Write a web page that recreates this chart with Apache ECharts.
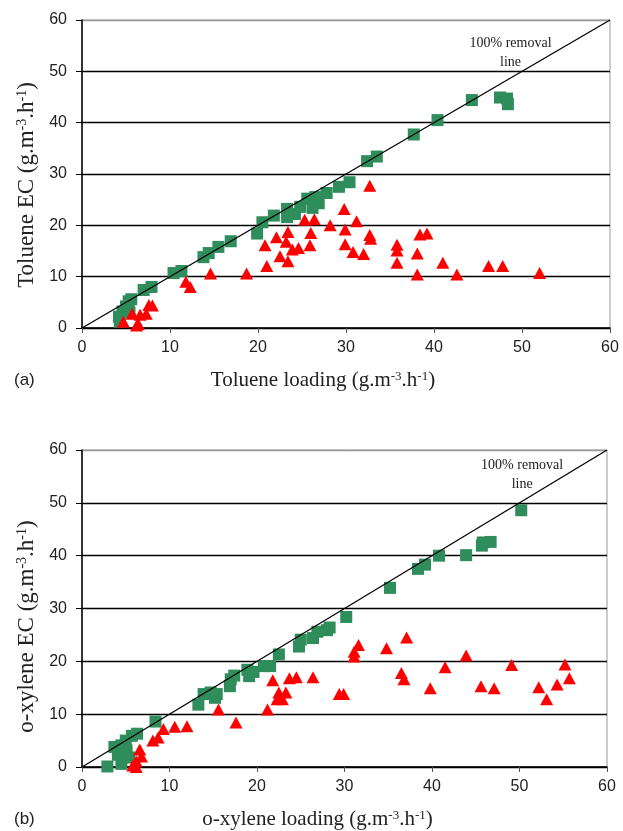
<!DOCTYPE html>
<html lang="en">
<head>
    <meta charset="UTF-8">
    <title>EC vs loading</title>
    <script src="https://cdn.jsdelivr.net/npm/echarts@6/dist/echarts.min.js"></script>
    <style>
        body { margin: 0; background: #fff; }
        #chart { width: 623px; height: 831px; }
    </style>
</head>
<body>
<div id="chart"></div>
<script>
    // (a) toluene
    var tolGreenX = [4.2, 4.3, 4.6, 5.0, 5.3, 5.6, 5.4, 7.0, 7.9, 10.4, 11.3, 13.8, 14.4, 15.5, 16.9, 19.9, 20.5, 21.8, 23.3, 23.3,
        24.2, 24.8, 25.6, 26.2, 26.5, 26.9, 27.8, 29.2, 30.4, 32.4, 33.5, 37.7, 40.4, 44.3, 47.5, 48.3, 48.4];
    var tolGreenY = [2.2, 1.2, 3.2, 4.2, 5.2, 5.6, 3.0, 7.4, 8.0, 10.7, 11.1, 13.8, 14.6, 15.8, 16.9, 18.4, 20.6, 21.9, 23.2, 21.6,
        22.2, 23.6, 25.2, 23.4, 25.5, 24.3, 26.3, 27.5, 28.4, 32.5, 33.4, 37.7, 40.5, 44.4, 44.9, 44.7, 43.6];
    var tolRedX = [4.7, 5.7, 6.2, 6.4, 6.6, 7.3, 7.6, 8.0, 11.8, 12.3, 14.6, 18.7, 20.8, 21.0, 22.1, 22.5, 23.2, 23.4, 23.4, 23.9,
        24.6, 25.3, 25.9, 26.0, 26.4, 28.2, 29.8, 29.9, 29.9, 30.8, 31.2, 32.0, 32.7, 32.8, 32.7, 35.8, 35.8, 35.8, 38.1, 38.1,
        38.4, 39.2, 41.0, 42.6, 46.2, 47.8, 52.0];
    var tolRedY = [1.2, 2.8, 0.5, 0.8, 2.6, 2.8, 4.5, 4.4, 9.0, 8.0, 10.6, 10.6, 16.1, 12.1, 17.7, 14.0, 16.8, 18.7, 13.0, 15.3,
        15.6, 21.1, 16.1, 18.5, 21.2, 20.0, 23.2, 19.2, 16.3, 14.8, 20.8, 14.4, 18.1, 17.4, 27.7, 16.2, 15.1, 12.7, 14.5, 10.4,
        18.2, 18.4, 12.7, 10.4, 12.1, 12.1, 10.7];

    // (b) o-xylene
    var xylGreenX = [2.9, 3.7, 4.1, 4.5, 4.5, 5.0, 5.1, 5.4, 5.7, 6.3, 8.4, 13.3, 13.9, 14.7, 15.2, 15.4, 16.9, 17.0, 17.4, 18.9,
        19.1, 19.6, 20.8, 21.5, 22.5, 24.8, 25.0, 26.4, 26.9, 28.0, 28.3, 30.2, 35.2, 38.4, 39.2, 40.8, 43.9, 45.7, 45.8, 46.7, 50.2];
    var xylGreenY = [0.1, 3.8, 2.3, 4.1, 0.6, 5.0, 3.1, 1.8, 5.9, 6.3, 8.6, 11.8, 13.8, 14.1, 13.1, 13.8, 15.3, 16.6, 17.3, 18.4,
        17.2, 18.0, 19.1, 19.1, 21.3, 22.8, 24.1, 24.4, 25.6, 25.9, 26.4, 28.4, 33.9, 37.5, 38.3, 40.0, 40.1, 41.9, 42.5, 42.6, 48.6];
    var xylRedX = [5.8, 6.2, 6.2, 6.6, 6.8, 8.1, 8.7, 9.3, 10.6, 12.0, 15.6, 17.6, 21.2, 21.8, 22.3, 22.5, 22.9, 23.3, 23.7, 24.5,
        26.4, 29.4, 29.9, 31.1, 31.1, 31.6, 34.8, 36.5, 36.8, 37.1, 39.8, 41.5, 43.9, 45.6, 47.1, 49.1, 52.2, 53.1, 54.3, 55.2, 55.7];
    var xylRedY = [0.3, 0.0, 1.1, 3.3, 2.0, 5.0, 5.6, 7.2, 7.6, 7.7, 10.9, 8.4, 10.9, 16.4, 12.8, 14.1, 12.8, 14.1, 16.8, 17.0,
        17.0, 13.8, 13.8, 20.9, 21.8, 23.1, 22.5, 17.8, 16.6, 24.5, 14.9, 18.9, 21.1, 15.3, 14.9, 19.3, 15.1, 12.8, 15.6, 19.4, 16.8];

    var removalLine = [[0, 0], [60, 60]];
    var axisMin = 0, axisMax = 60, axisStep = 10;

    var green = '#2e8d5b';
    var red = '#ff0000';

    function pairs(xs, ys) {
        var out = [];
        for (var i = 0; i < xs.length; i++) out.push([xs[i], ys[i]]);
        return out;
    }

    function supStyle(size) {
        return { sup: { fontFamily: 'Liberation Serif', fontSize: size, verticalAlign: 'top', color: '#222' } };
    }

    function xAxisOf(idx, name, shift) {
        return {
            gridIndex: idx, type: 'value', min: axisMin, max: axisMax, interval: axisStep,
            name: name, nameLocation: 'middle', nameGap: 42,
            nameTextStyle: { fontFamily: 'Liberation Serif', fontSize: 21, color: '#222', padding: [0, shift, 0, 0], rich: supStyle(13) },
            axisLine: { lineStyle: { color: '#000', width: 1.5 } },
            axisTick: { inside: false, length: 5, lineStyle: { color: '#555' } },
            axisLabel: { fontFamily: 'Liberation Sans', fontSize: 16, color: '#222', margin: 12 },
            splitLine: { show: false }
        };
    }

    function yAxisOf(idx, name, shift) {
        return {
            gridIndex: idx, type: 'value', min: axisMin, max: axisMax, interval: axisStep,
            name: name, nameLocation: 'middle', nameGap: 43,
            nameTextStyle: { fontFamily: 'Liberation Serif', fontSize: 23, color: '#222', padding: [0, shift, 0, 0], rich: supStyle(14) },
            axisLine: { show: true, lineStyle: { color: '#000', width: 1.5 } },
            axisTick: { show: true, inside: false, length: 6, lineStyle: { color: '#000' } },
            axisLabel: { fontFamily: 'Liberation Sans', fontSize: 16, color: '#222', margin: 15 },
            splitLine: { show: true, lineStyle: { color: ['#000', '#000', '#000', '#000', '#000', '#000', '#999'], width: 1.3 } }
        };
    }

    function seriesOf(idx, gx, gy, rx, ry, labelAt) {
        return [
            {
                type: 'scatter', xAxisIndex: idx, yAxisIndex: idx, symbol: 'rect', symbolSize: 12,
                itemStyle: { color: green, opacity: 1 }, data: pairs(gx, gy), z: 2
            },
            {
                type: 'scatter', xAxisIndex: idx, yAxisIndex: idx, symbol: 'triangle', symbolSize: [13, 12],
                itemStyle: { color: red, opacity: 1 }, data: pairs(rx, ry), z: 3
            },
            {
                type: 'line', xAxisIndex: idx, yAxisIndex: idx, data: removalLine, symbol: 'none',
                lineStyle: { color: '#000', width: 1.3 }, z: 4, silent: true,
                markPoint: {
                    symbolSize: 0,
                    data: [{ coord: labelAt, value: 0 }],
                    label: {
                        show: true, position: 'inside', formatter: '100% removal\nline',
                        fontFamily: 'Liberation Serif', fontSize: 14, lineHeight: 19, color: '#222', align: 'center'
                    }
                }
            }
        ];
    }

    var chart = echarts.init(document.getElementById('chart'), null, { renderer: 'canvas' });
    chart.setOption({
        backgroundColor: '#fff',
        animation: false,
        grid: [
            { left: 82, right: 13, top: 20, height: 308, show: true, borderColor: '#999', borderWidth: 1 },
            { left: 82, right: 16, top: 450, height: 320, show: true, borderColor: '#999', borderWidth: 1 }
        ],
        xAxis: [
            xAxisOf(0, 'Toluene loading (g.m{sup|-3}.h{sup|-1})', 46),
            xAxisOf(1, 'o-xylene loading (g.m{sup|-3}.h{sup|-1})', 54)
        ],
        yAxis: [
            yAxisOf(0, 'Toluene EC (g.m{sup|-3}.h{sup|-1})', 22),
            yAxisOf(1, 'o-xylene EC (g.m{sup|-3}.h{sup|-1})', 36)
        ],
        graphic: [
            { type: 'text', left: 14, top: 372, style: { text: '(a)', fontFamily: 'Liberation Sans', fontSize: 17, fill: '#222' } },
            { type: 'text', left: 14, top: 811, style: { text: '(b)', fontFamily: 'Liberation Sans', fontSize: 17, fill: '#222' } }
        ],
        series: seriesOf(0, tolGreenX, tolGreenY, tolRedX, tolRedY, [48.7, 53.6])
            .concat(seriesOf(1, xylGreenX, xylGreenY, xylRedX, xylRedY, [50.3, 55.3]))
    });
</script>
</body>
</html>
